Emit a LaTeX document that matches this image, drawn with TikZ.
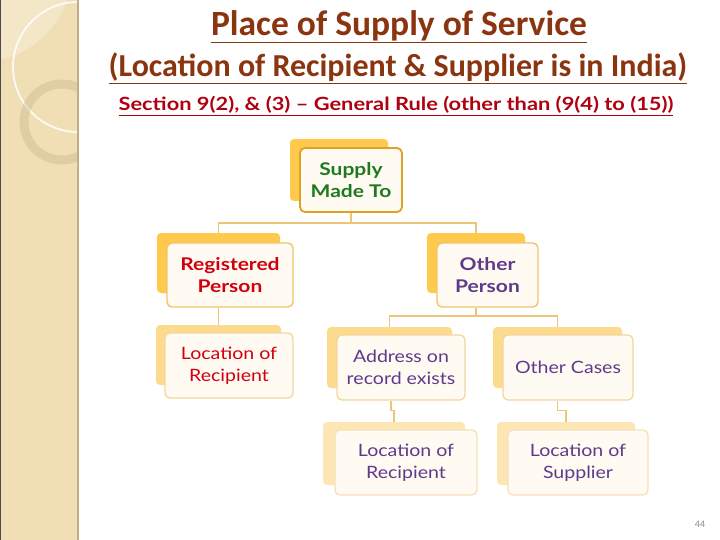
\documentclass[tikz,border=0pt]{standalone}
\usepackage{fontspec}
\setmainfont{Carlito}
\newfontfamily\boxfont[FakeStretch=1.15]{Lato}
\newfontfamily\boxfontb[FakeStretch=1.2]{Lato Bold}
\usetikzlibrary{calc}
\definecolor{sidebar}{HTML}{F0DFB5}
\definecolor{sideline}{HTML}{BFAE88}
\definecolor{titlebrown}{HTML}{8B3510}
\definecolor{secred}{HTML}{B00010}
\definecolor{backA}{HTML}{FFC94D}
\definecolor{backB}{HTML}{FDDB8E}
\definecolor{backC}{HTML}{FCE6B4}
\definecolor{frontfill}{HTML}{FFFBF2}
\definecolor{borderA}{HTML}{D9A520}
\definecolor{borderB}{HTML}{F0C468}
\definecolor{borderC}{HTML}{F3D59E}
\definecolor{borderD}{HTML}{F6E0B8}
\definecolor{connc}{HTML}{EBC67A}
\definecolor{txtgreen}{HTML}{1E7A1E}
\definecolor{txtred}{HTML}{D00010}
\definecolor{txtpurple}{HTML}{5E3A8C}
\tikzset{
  backbox/.style={rectangle, rounded corners=4pt, inner sep=0pt},
  frontbox/.style={rectangle, rounded corners=5pt, fill=frontfill, inner sep=0pt, align=center, font=\boxfont\fontsize{17}{22}\selectfont},
  boldtext/.style={font=\boxfontb\fontsize{17.5}{22}\selectfont},
  conn/.style={draw=connc, line width=1.6pt},
}
\begin{document}
\begin{tikzpicture}[x=1pt,y=-1pt]
\useasboundingbox (0,0) rectangle (720,540);
\fill[white] (0,0) rectangle (720,540);
% sidebar
\begin{scope}
\clip (0,0) rectangle (78,540);
\fill[sidebar] (0,0) rectangle (78,540);
\fill[white, opacity=0.25] (-20,-30) circle (92);
\draw[white, line width=1.8pt, opacity=0.85] (78,67) circle (65);
\draw[sideline, opacity=0.35, line width=9pt] (62,122) circle (38);
\end{scope}
\draw[sideline, line width=1.5pt] (78,0) -- (78,540);
\draw[black!70, line width=1.2pt] (0.6,0) -- (0.6,540);
% titles
\node[text=titlebrown, font=\bfseries\fontsize{35.5}{40}\selectfont] (t1) at (399,27) {\underline{Place of Supply of Service}};
\node[text=titlebrown, font=\bfseries\fontsize{32}{36}\selectfont] (t2) at (398,68) {\underline{(Location of Recipient \& Supplier is in India)}};
\node[text=secred, font=\boxfontb\fontsize{18.2}{22}\selectfont] (t3) at (396,106) {\underline{Section 9(2), \& (3) – General Rule (other than (9(4) to (15))}};
% back boxes
\node[backbox, fill=backA, minimum width=98pt, minimum height=62pt] (supB) at (339,170) {};
\node[backbox, fill=backA, minimum width=123pt, minimum height=60pt] (regB) at (218.5,263) {};
\node[backbox, fill=backA, minimum width=98pt, minimum height=60pt] (othB) at (476,263) {};
\node[backbox, fill=backB, minimum width=125pt, minimum height=60pt] (locrB) at (218.5,355) {};
\node[backbox, fill=backB, minimum width=125pt, minimum height=61pt] (addrB) at (389.5,357.5) {};
\node[backbox, fill=backB, minimum width=129pt, minimum height=61pt] (othcB) at (557.5,357.5) {};
\node[backbox, fill=backC, minimum width=142pt, minimum height=63pt] (locr2B) at (394,453.5) {};
\node[backbox, fill=backC, minimum width=138pt, minimum height=63pt] (locsB) at (566,453.5) {};
% front boxes
\node[frontbox, draw=borderA, line width=1.8pt, minimum width=102pt, minimum height=64pt, text=txtgreen, boldtext] (sup) at (351,180) {Supply\\Made To};
\node[frontbox, draw=borderB, line width=1.4pt, minimum width=126pt, minimum height=64pt, text=txtred, boldtext] (reg) at (230,275) {Registered\\Person};
\node[frontbox, draw=borderB, line width=1.4pt, minimum width=101pt, minimum height=64pt, text=txtpurple, boldtext] (oth) at (487.5,275) {Other\\Person};
\node[frontbox, draw=borderC, line width=1.3pt, minimum width=128pt, minimum height=65pt, text=txtred] (locr) at (229,365.5) {Location of\\Recipient};
\node[frontbox, draw=borderC, line width=1.3pt, minimum width=128pt, minimum height=65pt, text=txtpurple] (addr) at (401,367.5) {Address on\\record exists};
\node[frontbox, draw=borderC, line width=1.3pt, minimum width=130pt, minimum height=65pt, text=txtpurple] (othc) at (568,367.5) {Other Cases};
\node[frontbox, draw=borderD, line width=1.3pt, minimum width=142pt, minimum height=65pt, text=txtpurple] (locr2) at (406,462.5) {Location of\\Recipient};
\node[frontbox, draw=borderD, line width=1.3pt, minimum width=140pt, minimum height=65pt, text=txtpurple] (locs) at (578,462.5) {Location of\\Supplier};
% connectors
\draw[conn] (sup.south) -- ++(0,10) coordinate (j1) -| (regB.north);
\draw[conn] (j1) -| (othB.north);
\draw[conn] (regB.center |- reg.south) -- (locrB.north);
\draw[conn] (othB.center |- oth.south) -- ++(0,8) coordinate (j2) -| (addrB.north);
\draw[conn] (j2) -| (othcB.north);
\draw[conn] ($(addrB.center |- addr.south)+(1.5,0)$) -- ++(0,10) -| (locr2B.north);
\draw[conn] (othcB.center |- othc.south) -- ++(0,10) -| (locsB.north);
% page number
\node[text=black!45, font=\fontsize{10}{12}\selectfont] (pg) at (700,524) {44};
\end{tikzpicture}
\end{document}
